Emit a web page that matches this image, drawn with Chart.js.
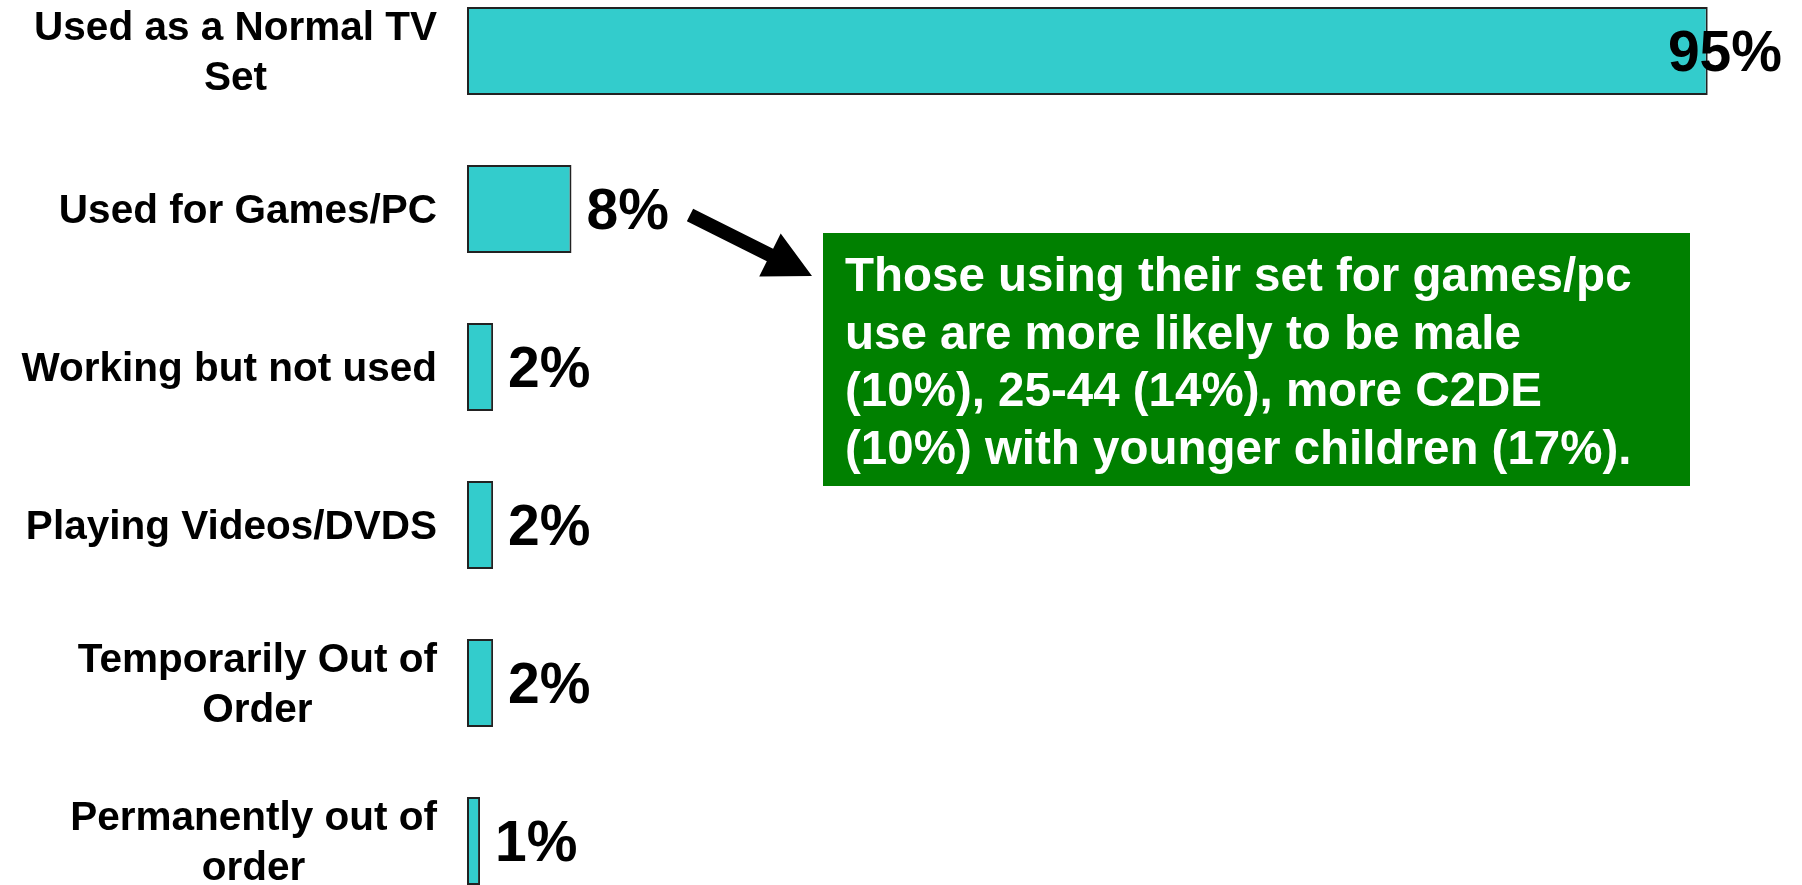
<!DOCTYPE html>
<html>
<head>
<meta charset="utf-8">
<title>TV set usage</title>
<script src="https://cdn.jsdelivr.net/npm/chart.js@4/dist/chart.umd.min.js"></script>
<style>
  html, body { margin: 0; padding: 0; background: #fff; overflow: hidden; }
  body { width: 1802px; height: 885px; position: relative; }
  /* the plot runs a little past the top and bottom edges of the page */
  #wrap { position: absolute; left: 0; top: -28px; width: 1802px; height: 948px; }
</style>
</head>
<body>
<div id="wrap"><canvas id="usageChart"></canvas></div>
<script>
// categories (multi-line ones as arrays) and their shares in %
const categories = [
  ['Used as a Normal TV', 'Set'],
  ['Used for Games/PC'],
  ['Working but not used'],
  ['Playing Videos/DVDS'],
  ['Temporarily Out of', 'Order'],
  ['Permanently out of', 'order']
];
const shares = [95, 8, 2, 2, 2, 1];

// callout text
const noteLines = [
  'Those using their set for games/pc',
  'use are more likely to be male',
  '(10%), 25-44 (14%), more C2DE',
  '(10%) with younger children (17%).'
];

const CANVAS_TOP = -28;
const FONT = "'Liberation Sans', Arial, Helvetica, sans-serif";

// draws category names, value labels and the callout with its arrow
const labelsPlugin = {
  id: 'usageLabels',
  afterDatasetsDraw(chart) {
    const ctx = chart.ctx;
    const yScale = chart.scales.y;
    const meta = chart.getDatasetMeta(0);

    ctx.save();
    ctx.fillStyle = '#000';

    // category names, block right-aligned, lines centred on each other
    const catSize = 40.5, catPitch = 50, catRight = 437;
    ctx.font = `bold ${catSize}px ${FONT}`;
    ctx.textAlign = 'center';
    ctx.textBaseline = 'alphabetic';
    categories.forEach((lines, i) => {
      const cy = yScale.getPixelForValue(i);
      const maxW = Math.max(...lines.map(l => ctx.measureText(l).width));
      const cx = catRight - maxW / 2;
      const y0 = cy - (lines.length - 1) * catPitch / 2 + 0.358 * catSize;
      lines.forEach((l, j) => ctx.fillText(l, cx, y0 + j * catPitch));
    });

    // value labels after the bar end, kept inside the right edge
    const valSize = 57;
    ctx.font = `bold ${valSize}px ${FONT}`;
    ctx.textAlign = 'left';
    const rightLimit = 1782;
    meta.data.forEach((bar, i) => {
      const txt = shares[i] + '%';
      const w = ctx.measureText(txt).width;
      let x = bar.x + 15;
      if (x + w > rightLimit) x = rightLimit - w;
      ctx.fillText(txt, x, bar.y + 0.358 * valSize);
    });

    // callout box
    const oy = -CANVAS_TOP;
    ctx.fillStyle = '#008000';
    ctx.fillRect(823, 233 + oy, 867, 253);
    ctx.fillStyle = '#fff';
    ctx.font = `bold 47.5px ${FONT}`;
    noteLines.forEach((l, j) => ctx.fillText(l, 845, 291 + oy + j * 57.5));

    // arrow from the games/pc value towards the box
    const tail = { x: 690, y: 215 + oy };
    const tip = { x: 812, y: 276 + oy };
    const ang = Math.atan2(tip.y - tail.y, tip.x - tail.x);
    const len = Math.hypot(tip.x - tail.x, tip.y - tail.y);
    ctx.translate(tail.x, tail.y);
    ctx.rotate(ang);
    ctx.fillStyle = '#000';
    const shaft = 7, head = 24, headLen = 47;
    ctx.beginPath();
    ctx.moveTo(0, -shaft);
    ctx.lineTo(len - headLen, -shaft);
    ctx.lineTo(len - headLen, -head);
    ctx.lineTo(len, 0);
    ctx.lineTo(len - headLen, head);
    ctx.lineTo(len - headLen, shaft);
    ctx.lineTo(0, shaft);
    ctx.closePath();
    ctx.fill();

    ctx.restore();
  }
};

new Chart(document.getElementById('usageChart'), {
  type: 'bar',
  data: {
    labels: categories,
    datasets: [{
      data: shares,
      backgroundColor: '#33CCCC',
      borderColor: '#222',
      borderWidth: 2,
      borderSkipped: false,
      categoryPercentage: 1,
      barPercentage: 88 / 158
    }]
  },
  options: {
    indexAxis: 'y',
    responsive: true,
    maintainAspectRatio: false,
    animation: false,
    layout: { padding: { left: 467, right: 29, top: 0, bottom: 0 } },
    plugins: {
      legend: { display: false },
      tooltip: { enabled: false }
    },
    scales: {
      x: { display: false, min: 0, max: 100 },
      y: { display: false }
    }
  },
  plugins: [labelsPlugin]
});
</script>
</body>
</html>
